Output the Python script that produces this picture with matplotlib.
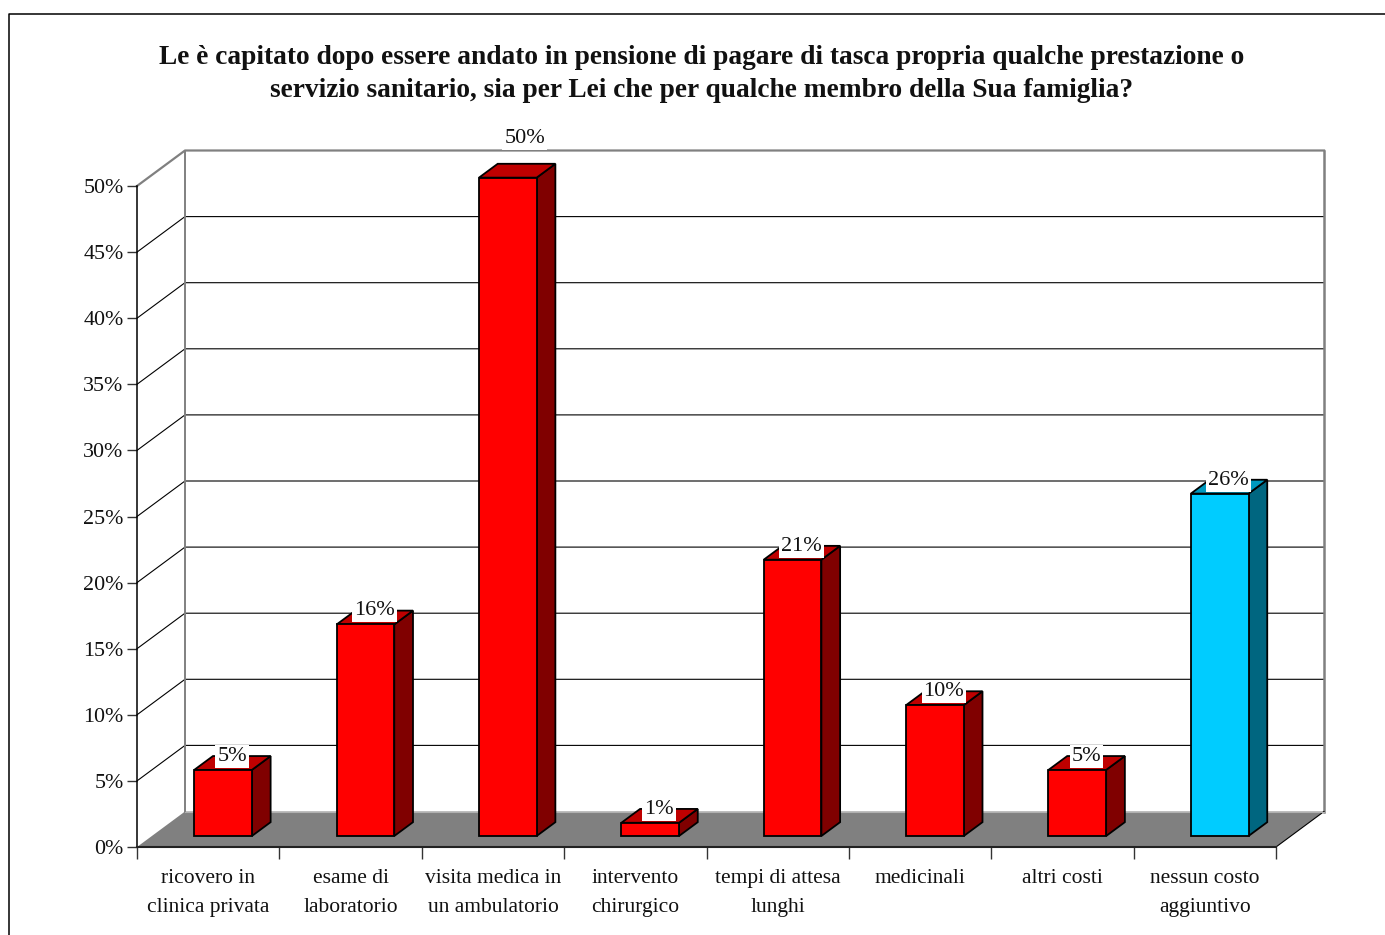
import matplotlib
matplotlib.use("Agg")
import matplotlib.pyplot as plt
from matplotlib.lines import Line2D
from matplotlib.patches import Polygon

plt.rcParams["font.family"] = ["Liberation Serif", "DejaVu Serif"]

TITLE = ("Le è capitato dopo essere andato in pensione di pagare di tasca propria qualche prestazione o\n"
         "servizio sanitario, sia per Lei che per qualche membro della Sua famiglia?")
categories = ["ricovero in\nclinica privata", "esame di\nlaboratorio", "visita medica in\nun ambulatorio",
              "intervento\nchirurgico", "tempi di attesa\nlunghi", "medicinali", "altri costi",
              "nessun costo\naggiuntivo"]
values = [5.0, 16.0, 49.8, 1.0, 20.9, 9.9, 5.0, 25.9]
is_blue = [False, False, False, False, False, False, False, True]
y_ticks = [0, 5, 10, 15, 20, 25, 30, 35, 40, 45, 50]

W, H = 1385, 935
# front plane of the fake 3d box, in pixels
LEFT, RIGHT, BOTTOM, TOP = 137, 1276, 847, 186
DX = 48 / ((RIGHT - LEFT) / 8)      # box depth in data units
DY = 35.5 / ((BOTTOM - TOP) / 50)
BAR_W = 0.405
D_FRONT, D_BACK = 0.31, 0.70

RED = ("#ff0000", "#bf0000", "#800000")
BLUE = ("#00ccff", "#0099bf", "#006680")


def off(x, y, d):
    return x + DX * d, y + DY * d


fig = plt.figure(figsize=(W / 100, H / 100), dpi=100)
ax = fig.add_axes([LEFT / W, 1 - BOTTOM / H, (RIGHT - LEFT) / W, (BOTTOM - TOP) / H])
ax.set_xlim(0, len(values))
ax.set_ylim(0, 50)
ax.patch.set_visible(False)
for s in ["top", "right"]:
    ax.spines[s].set_visible(False)
ax.spines["left"].set_linewidth(1.1)
ax.spines["bottom"].set_linewidth(1.5)
ax.spines["bottom"].set_color("#222222")

# page frame
fig.add_artist(Line2D([9 / W, 9 / W, 1], [0, 1 - 14 / H, 1 - 14 / H], color="black", lw=1.1))

# floor and walls
n = len(values)
ax.add_patch(Polygon([off(0, 0, 0), off(n, 0, 0), off(n, 0, 1), off(0, 0, 1)], fc="#808080", ec="none",
                     clip_on=False, zorder=1))
for v in y_ticks[1:-1]:
    ax.plot(*zip(off(0, v, 0), off(0, v, 1), off(n, v, 1)), color="black", lw=0.8, clip_on=False, zorder=1)
ax.plot(*zip(off(0, 50, 0), off(0, 50, 1), off(n, 50, 1)), color="#808080", lw=1.6, clip_on=False, zorder=1)
ax.plot(*zip(off(0, 0, 1), off(0, 50, 1)), color="#808080", lw=1.4, clip_on=False, zorder=1)
ax.plot(*zip(off(n, 0, 1), off(n, 50, 1)), color="#808080", lw=1.8, clip_on=False, zorder=1)
ax.plot(*zip(off(n, 0, 0), off(n, 0, 1)), color="black", lw=0.8, clip_on=False, zorder=1)
ax.plot(*zip(off(0, 0, 1), off(n, 0, 1)), color="#b0b0b0", lw=0.8, clip_on=False, zorder=1)

# bars
for i, (v, blue) in enumerate(zip(values, is_blue)):
    front, top, side = BLUE if blue else RED
    x0, x1 = i + 0.5 - BAR_W / 2, i + 0.5 + BAR_W / 2
    kw = dict(ec="black", lw=1.3, joinstyle="miter", clip_on=False, zorder=3)
    ax.add_patch(Polygon([off(x1, 0, D_FRONT), off(x1, 0, D_BACK), off(x1, v, D_BACK), off(x1, v, D_FRONT)], fc=side, **kw))
    ax.add_patch(Polygon([off(x0, v, D_FRONT), off(x1, v, D_FRONT), off(x1, v, D_BACK), off(x0, v, D_BACK)], fc=top, **kw))
    ax.add_patch(Polygon([off(x0, 0, D_FRONT), off(x1, 0, D_FRONT), off(x1, v, D_FRONT), off(x0, v, D_FRONT)], fc=front, **kw))
    # the tallest label gets pushed further out, above the box
    lx, ly = off(i + 0.5, v, D_FRONT)
    if v == max(values):
        px, py = 17, 30
    else:
        px, py = 9, 4
    ax.annotate(f"{v:.0f}%", (lx, ly), xytext=(px * 0.72, py * 0.72), textcoords="offset points",
                ha="center", va="bottom", fontsize=16, color="#111111", zorder=4, annotation_clip=False,
                bbox=dict(fc="white", ec="none", pad=1.5))

# axes ticks
ax.set_yticks(y_ticks)
ax.set_yticklabels([f"{v}%" for v in y_ticks], fontsize=15.8, color="#111111")
ax.tick_params(axis="y", length=7.5, width=1.0, pad=2.2, color="#333333")
ax.set_xticks(range(n + 1))
ax.set_xticklabels([])
ax.tick_params(axis="x", which="major", length=8.5, width=1.0, color="#333333")
ax.set_xticks([i + 0.5 for i in range(n)], minor=True)
ax.set_xticklabels(categories, minor=True, fontsize=15.5, color="#111111", linespacing=1.68)
ax.tick_params(axis="x", which="minor", length=0, pad=16)

fig.text(702 / W, 1 - 74 / H, TITLE, ha="center", va="center", fontsize=19.7, fontweight="bold",
         color="#111111", linespacing=1.46)

fig.savefig("out.png", dpi=100)
plt.close(fig)
